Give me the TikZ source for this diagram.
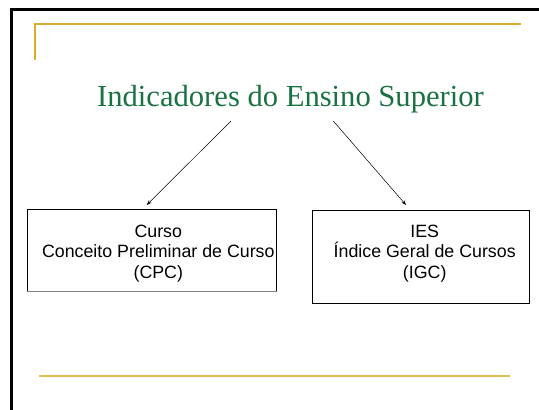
\documentclass[tikz,border=0pt]{standalone}
\usepackage{fontspec}
\setmainfont{Liberation Serif}
\setsansfont{Liberation Sans}
\usetikzlibrary{arrows.meta}
\definecolor{titlegreen}{RGB}{26,114,66}
\definecolor{gold}{RGB}{216,172,52}
\definecolor{goldlight}{RGB}{226,190,84}
\tikzset{
  framebar/.style={line width=3pt, black},
  rule/.style={line width=1.3pt, gold},
  boxshape/.style={draw=black, line width=0.8pt, rectangle, inner sep=0pt},
  boxtext/.style={font=\sffamily\fontsize{17.8}{20.3}\selectfont, align=center, inner sep=0pt},
  pointer/.style={line width=0.5pt, -{Stealth[length=5pt,width=3.5pt]}},
}
\begin{document}
\begin{tikzpicture}[x=1pt,y=-1pt]
\useasboundingbox (0,0) rectangle (539,410);
\begin{scope}
\clip (0,0) rectangle (539,410);
\draw[framebar] (11.5,420) -- (11.5,9.5) -- (550,9.5);
\end{scope}
\draw[rule] (35,60) -- (35,24) -- (521,24);
\draw[rule, goldlight, line width=1.8pt] (38.5,375.7) -- (510,375.7);
\node[anchor=base, text=titlegreen, font=\fontsize{30.6}{34}\selectfont, inner sep=0pt] (title) at (290.5,106.5) {Indicadores do Ensino Superior};
\node[boxshape, minimum width=249pt, minimum height=81.7pt] (cursobox) at (152.2,250.15) {};
\draw[gray, line width=1.2pt] (cursobox.south west) -- (cursobox.south east);
\node[boxshape, minimum width=216.6pt, minimum height=93.3pt] (iesbox) at (421,256.65) {};
\node[boxtext] (cursotext) at (158.3,253.5) {Curso\\Conceito Preliminar de Curso\\(CPC)};
\node[boxtext] (iestext) at (424.7,253.5) {IES\\Índice Geral de Cursos\\(IGC)};
\coordinate (l1) at (231,121);
\coordinate (l2) at (146.7,205);
\coordinate (r1) at (333.3,121);
\coordinate (r2) at (406,205);
\draw[pointer] (l1) -- (l2);
\draw[pointer] (r1) -- (r2);
\end{tikzpicture}
\end{document}
